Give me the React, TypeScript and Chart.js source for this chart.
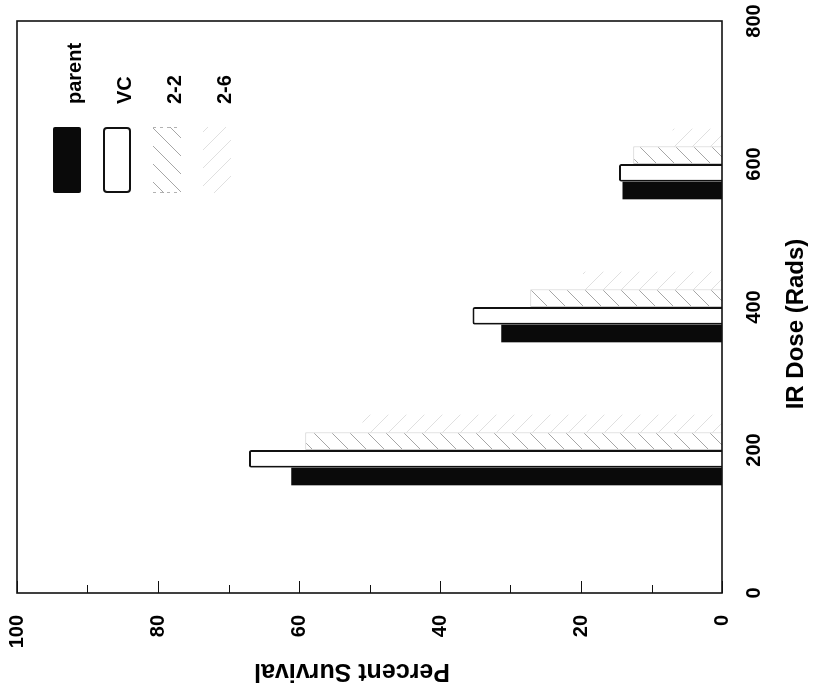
import React, { useEffect, useRef } from 'react';
import { Chart, registerables } from 'chart.js';

Chart.register(...registerables);

// ---- data ----
const doses = [200, 400, 600];
const parentSurvival = [61.1, 31.3, 14.1];
const vcSurvival = [67.1, 35.4, 14.6];
const c22Survival = [59.1, 27.2, 12.6];
const c26Survival = [51.0, 19.7, 7.0];
const seriesLabels = ['parent', 'VC', '2-2', '2-6'];
const doseTicks = [0, 200, 400, 600, 800];
const percentTicks = [0, 20, 40, 60, 80, 100];
const percentMinorTicks = [10, 30, 50, 70, 90];
const doseTitle = 'IR Dose (Rads)';
const percentTitle = 'Percent Survival';

const FONT = '"Liberation Sans", Arial, Helvetica, sans-serif';

function makeHatch(ctx: CanvasRenderingContext2D, dir: 'fwd' | 'back', color: string, size: number, width: number) {
  const c = document.createElement('canvas');
  c.width = size;
  c.height = size;
  const g = c.getContext('2d')!;
  g.fillStyle = '#ffffff';
  g.fillRect(0, 0, size, size);
  g.strokeStyle = color;
  g.lineWidth = width;
  g.beginPath();
  if (dir === 'fwd') {
    g.moveTo(-1, size + 1); g.lineTo(size + 1, -1);
    g.moveTo(-1, 1); g.lineTo(1, -1);
    g.moveTo(size - 1, size + 1); g.lineTo(size + 1, size - 1);
  } else {
    g.moveTo(-1, -1); g.lineTo(size + 1, size + 1);
    g.moveTo(size - 1, -1); g.lineTo(size + 1, 1);
    g.moveTo(-1, size - 1); g.lineTo(1, size + 1);
  }
  g.stroke();
  return ctx.createPattern(c, 'repeat')!;
}

const zeroPadding = (s: any) => {
  s.paddingLeft = 0;
  s.paddingRight = 0;
  s.paddingTop = 0;
  s.paddingBottom = 0;
};

export default function App() {
  const ref = useRef<HTMLCanvasElement | null>(null);

  useEffect(() => {
    const canvas = ref.current!;
    const ctx = canvas.getContext('2d')!;
    const hatch22 = makeHatch(ctx, 'fwd', '#a6a6a6', 18, 1);
    const hatch26 = makeHatch(ctx, 'back', '#e0e0e0', 18, 1);

    const toPoints = (vals: number[]) => doses.map((d, i) => ({ x: d, y: vals[i] }));

    const decor = {
      id: 'decor',
      afterDatasetsDraw(chart: any) {
        const { ctx: c, chartArea: a, scales } = chart;
        const y = scales.y;
        c.save();
        // frame
        c.strokeStyle = '#111';
        c.lineWidth = 1.6;
        c.strokeRect(a.left, a.top, a.right - a.left, a.bottom - a.top);
        // inward ticks on percent axis
        c.lineWidth = 1.2;
        c.beginPath();
        for (const v of percentTicks) {
          const p = Math.round(y.getPixelForValue(v)) + 0.5;
          c.moveTo(a.left, p);
          c.lineTo(a.left + 12, p);
        }
        for (const v of percentMinorTicks) {
          const p = Math.round(y.getPixelForValue(v)) + 0.5;
          c.moveTo(a.left, p);
          c.lineTo(a.left + 8, p);
        }
        c.stroke();

        // legend
        const fills = [null, null, hatch22, hatch26];
        seriesLabels.forEach((label, i) => {
          const cy = a.top + 50 * (i + 1);
          const bx = a.right - 172;
          const bw = 66;
          const bh = 28;
          const by = cy - bh / 2;
          if (i === 0) {
            c.fillStyle = '#0a0a0a';
            c.beginPath();
            c.roundRect(bx, by, bw, bh, 2);
            c.fill();
          } else if (i === 1) {
            c.fillStyle = '#fff';
            c.strokeStyle = '#111';
            c.lineWidth = 2;
            c.beginPath();
            c.roundRect(bx + 1, by + 1, bw - 2, bh - 2, 3);
            c.fill();
            c.stroke();
          } else {
            c.fillStyle = fills[i];
            c.fillRect(bx, by, bw, bh);
            if (i === 2) {
              c.strokeStyle = 'rgba(0,0,0,0.3)';
              c.lineWidth = 1;
              c.setLineDash([3, 4]);
              c.beginPath();
              c.moveTo(bx + 0.5, by);
              c.lineTo(bx + 0.5, by + bh);
              c.moveTo(bx + bw - 0.5, by);
              c.lineTo(bx + bw - 0.5, by + bh);
              c.stroke();
              c.setLineDash([]);
            }
          }
          c.fillStyle = '#000';
          c.font = `bold 20px ${FONT}`;
          c.textAlign = 'left';
          c.textBaseline = 'alphabetic';
          c.fillText(label, a.right - 83, cy + 14);
        });

        // axis titles
        c.fillStyle = '#000';
        c.textAlign = 'center';
        c.textBaseline = 'middle';
        c.font = `bold 24px ${FONT}`;
        c.fillText(doseTitle, (a.left + a.right) / 2 - 17, a.bottom + 74);
        c.save();
        c.translate(a.left - 78, (a.top + a.bottom) / 2 - 17.5);
        c.rotate(-Math.PI / 2);
        c.font = `bold 25px ${FONT}`;
        c.fillText(percentTitle, 0, 0);
        c.restore();

        c.restore();
      },
    };

    const chart = new Chart(canvas, {
      type: 'bar',
      data: {
        datasets: [
          {
            label: seriesLabels[0],
            data: toPoints(parentSurvival),
            backgroundColor: '#0a0a0a',
            borderWidth: 0,
          },
          {
            label: seriesLabels[1],
            data: toPoints(vcSurvival),
            backgroundColor: '#ffffff',
            borderColor: '#111111',
            borderWidth: 2,
            borderRadius: 2,
            borderSkipped: 'start',
          },
          {
            label: seriesLabels[2],
            data: toPoints(c22Survival),
            backgroundColor: hatch22,
            borderColor: 'rgba(0,0,0,0.2)',
            borderWidth: 1,
            borderSkipped: 'start',
          },
          {
            label: seriesLabels[3],
            data: toPoints(c26Survival),
            backgroundColor: hatch26,
            borderWidth: 0,
          },
        ] as any,
      },
      options: {
        responsive: false,
        animation: false,
        devicePixelRatio: 1,
        layout: { padding: { left: 0, right: 21, top: 17, bottom: 0 } },
        datasets: {
          bar: { categoryPercentage: 0.494, barPercentage: 1.0, grouped: true },
        } as any,
        plugins: {
          legend: { display: false },
          tooltip: { enabled: false },
        },
        scales: {
          x: {
            type: 'linear',
            min: 0,
            max: 800,
            offset: false,
            grid: { display: false, drawTicks: false, offset: false },
            border: { display: false },
            afterBuildTicks: (s: any) => {
              s.ticks = doseTicks.map((v) => ({ value: v }));
            },
            ticks: {
              padding: 20,
              color: '#000',
              font: { family: FONT, size: 20, weight: 'bold' },
              maxRotation: 0,
              autoSkip: false,
            },
            title: { display: false },
            afterFit: (s: any) => {
              s.height = 92;
              zeroPadding(s);
            },
          },
          y: {
            type: 'linear',
            min: 0,
            max: 100,
            grid: { display: false, drawTicks: false },
            border: { display: false },
            afterBuildTicks: (s: any) => {
              s.ticks = percentTicks.map((v) => ({ value: v }));
            },
            ticks: {
              padding: 22,
              color: '#000',
              font: { family: FONT, size: 20, weight: 'bold' },
              autoSkip: false,
            },
            title: { display: false },
            afterFit: (s: any) => {
              s.width = 102;
              zeroPadding(s);
            },
          },
        } as any,
      },
      plugins: [decor],
    });

    return () => chart.destroy();
  }, []);

  return (
    <div
      style={{
        position: 'fixed',
        left: 0,
        top: 0,
        width: 814,
        height: 695,
        overflow: 'hidden',
        background: '#ffffff',
      }}
    >
      <canvas
        ref={ref}
        width={695}
        height={814}
        style={{
          position: 'absolute',
          left: 0,
          top: 0,
          width: 695,
          height: 814,
          transformOrigin: '0 0',
          transform: 'translate(0px, 695px) rotate(-90deg)',
        }}
      />
    </div>
  );
}
